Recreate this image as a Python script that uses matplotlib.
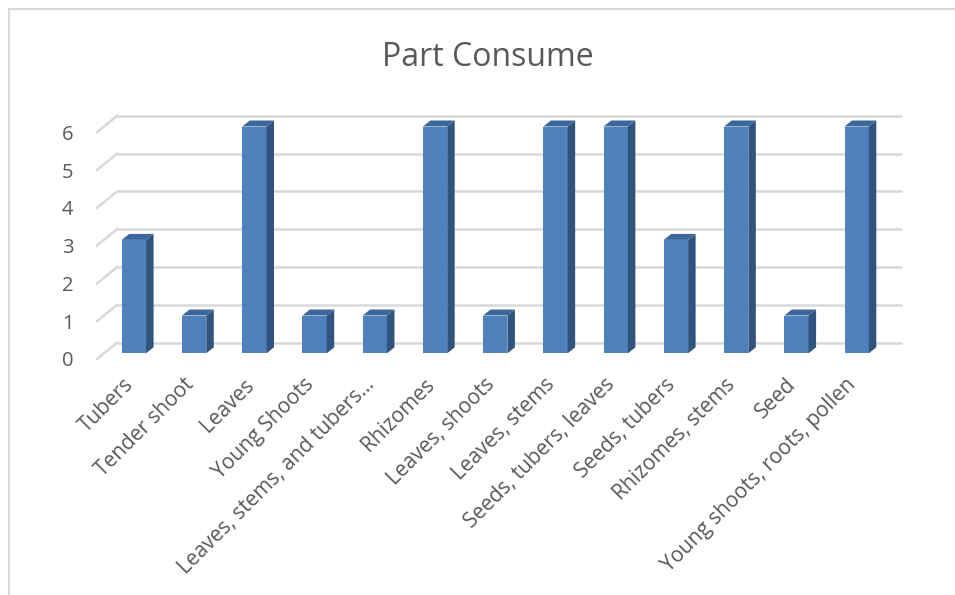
import matplotlib
matplotlib.use("Agg")
import matplotlib.pyplot as plt
from matplotlib.patches import Polygon
from matplotlib.lines import Line2D
from matplotlib.transforms import ScaledTranslation

categories = ['Tubers', 'Tender shoot', 'Leaves', 'Young Shoots',
              'Leaves, stems, and tubers…', 'Rhizomes', 'Leaves, shoots',
              'Leaves, stems', 'Seeds, tubers, leaves', 'Seeds, tubers',
              'Rhizomes, stems', 'Seed', 'Young shoots, roots, pollen']
values = [3, 1, 6, 1, 1, 6, 1, 6, 6, 3, 6, 1, 6]
y_ticks = [0, 1, 2, 3, 4, 5, 6]

W, H = 955, 595
# pixel layout of the plot area
L, R, T, B = 97, 902, 115, 359
X0, XSTEP = 133.9, 60.23      # first bar centre, spacing (px)
Y0, YSTEP = 353.3, 37.8       # bar front baseline, px per unit

def px2x(p):
    return (p - X0) / XSTEP

def px2y(p):
    return (Y0 - p) / YSTEP

front = '#4f81bd'
side = '#31547f'
top = '#3c679c'
grid = '#d9d9d9'
txt = '#595959'

fig = plt.figure(figsize=(W / 100, H / 100), dpi=100)
ax = fig.add_axes([L / W, (H - B) / H, (R - L) / W, (B - T) / H])
ax.set_xlim(px2x(L), px2x(R))
ax.set_ylim(px2y(B), px2y(T))
for s in ax.spines.values():
    s.set_visible(False)

# walls / gridlines (back wall + floor edge)
back_dy = px2y(342.7)
front_dy = px2y(359)
wall_x = px2x(117)
for k in y_ticks:
    ax.plot([wall_x, px2x(R)], [k + back_dy, k + back_dy], color=grid, lw=1.8, zorder=1,
            solid_capstyle='butt', clip_on=False)
    ax.plot([px2x(L), wall_x], [k + front_dy, k + back_dy], color=grid, lw=1.8, zorder=1,
            clip_on=False)

# 3d-ish columns
bw = 24.3 / XSTEP
dx = 7.5 / XSTEP
dy = 6 / YSTEP
xs = list(range(len(categories)))
ax.bar(xs, values, width=bw, color=front, zorder=3)
for x, v in zip(xs, values):
    r = x + bw / 2
    l = x - bw / 2
    ax.add_patch(Polygon([(r, 0), (r + dx, dy), (r + dx, v + dy), (r, v)],
                         closed=True, facecolor=side, edgecolor='none', zorder=3))
    ax.add_patch(Polygon([(l, v), (l + dx, v + dy), (r + dx, v + dy), (r, v)],
                         closed=True, facecolor=top, edgecolor='none', zorder=3))

ax.set_yticks([k + front_dy for k in y_ticks], labels=[str(k) for k in y_ticks])
ax.set_xticks(xs, labels=categories, rotation=45, ha='right', rotation_mode='anchor')
ax.tick_params(axis='y', length=0, pad=17, labelsize=14.5, labelcolor=txt)
ax.tick_params(axis='x', length=0, pad=11, labelsize=15, labelcolor=txt)
for lab in ax.get_xticklabels() + ax.get_yticklabels():
    lab.set_fontfamily('Open Sans')
shift = ScaledTranslation(-11 / 100, 0, fig.dpi_scale_trans)
for lab in ax.get_xticklabels():
    lab.set_transform(lab.get_transform() + shift)

fig.text(488 / W, 1 - 57 / H, 'Part Consume', ha='center', va='center',
         fontsize=23, color=txt, family='Open Sans')

# chart area border
fig.add_artist(Line2D([8.5 / W, 8.5 / W], [0, 1 - 9 / H], color='#d9d9d9', lw=1.5))
fig.add_artist(Line2D([8.5 / W, 1], [1 - 9 / H, 1 - 9 / H], color='#d9d9d9', lw=1.5))

fig.savefig('out.png', dpi=100)
